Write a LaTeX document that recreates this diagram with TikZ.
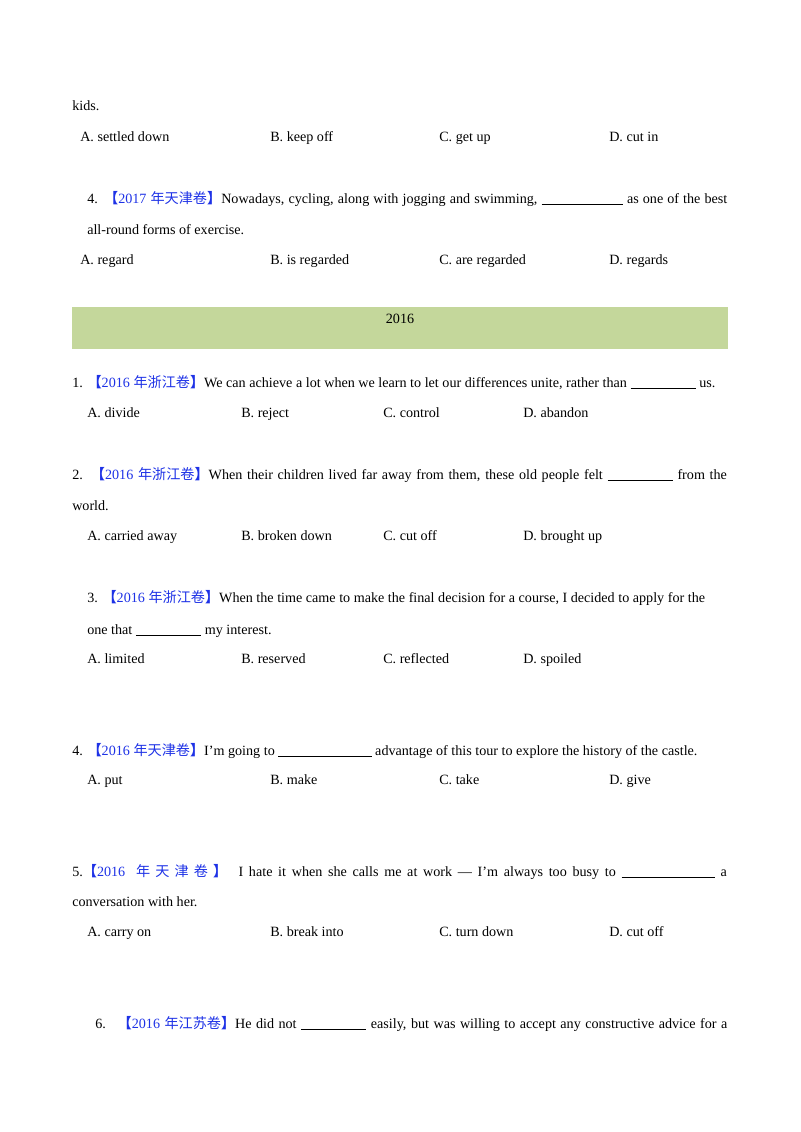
\documentclass[tikz,border=0pt]{standalone}
\usepackage{fontspec}
\setmainfont{Liberation Serif}
\newfontfamily\cjk{Noto Sans CJK SC}
\definecolor{hdblue}{RGB}{30,50,230}
\definecolor{band}{RGB}{196,215,155}
\newcommand\blankline[1]{\rule[-1.5pt]{#1}{0.5pt}}
\newcommand\src[2]{{\color{hdblue}{\cjk\bfseries 【}#1 {\cjk #2\bfseries 】}}}
\begin{document}
\begin{tikzpicture}[x=0.75pt,y=-0.75pt,
  txt/.style={anchor=base west,inner sep=0pt,font=\fontsize{10.6}{12}\selectfont}]
\useasboundingbox (0,0) rectangle (800,1132);
\fill[band] (72,307) rectangle (728,349);
\node[txt] (k) at (72,110) {kids.};
\node[txt] (a1) at (80,141) {A. settled down};
\node[txt] (b1) at (270,141) {B. keep off};
\node[txt] (c1) at (439,141) {C. get up};
\node[txt] (d1) at (609,141) {D. cut in};
\node[txt] (q4) at (87,203) {\makebox[480pt][s]{4. \src{2017}{年天津卷}Nowadays, cycling, along with jogging and swimming, \blankline{61pt} as one of the best}};
\node[txt] (q4b) at (87,234) {all-round forms of exercise.};
\node[txt] (a2) at (80,264) {A. regard};
\node[txt] (b2) at (270,264) {B. is regarded};
\node[txt] (c2) at (439,264) {C. are regarded};
\node[txt] (d2) at (609,264) {D. regards};
\node[txt,anchor=base] (yr) at (400,323) {2016};
\node[txt] (p1) at (72,387) {1. \src{2016}{年浙江卷}We can achieve a lot when we learn to let our differences unite, rather than \blankline{49pt} us.};
\node[txt] (a3) at (87,417) {A. divide};
\node[txt] (b3) at (241,417) {B. reject};
\node[txt] (c3) at (383,417) {C. control};
\node[txt] (d3) at (523,417) {D. abandon};
\node[txt] (p2) at (72,479) {\makebox[491pt][s]{2. \src{2016}{年浙江卷}When their children lived far away from them, these old people felt \blankline{49pt} from the}};
\node[txt] (p2b) at (72,510) {world.};
\node[txt] (a4) at (87,540) {A. carried away};
\node[txt] (b4) at (241,540) {B. broken down};
\node[txt] (c4) at (383,540) {C. cut off};
\node[txt] (d4) at (523,540) {D. brought up};
\node[txt] (p3) at (87,602) {3. \src{2016}{年浙江卷}When the time came to make the final decision for a course, I decided to apply for the};
\node[txt] (p3b) at (87,634) {one that \blankline{49pt} my interest.};
\node[txt] (a5) at (87,663) {A. limited};
\node[txt] (b5) at (241,663) {B. reserved};
\node[txt] (c5) at (383,663) {C. reflected};
\node[txt] (d5) at (523,663) {D. spoiled};
\node[txt] (p4) at (72,755) {4. \src{2016}{年天津卷}I'm going to \blankline{70pt} advantage of this tour to explore the history of the castle.};
\node[txt] (a6) at (87,784) {A. put};
\node[txt] (b6) at (270,784) {B. make};
\node[txt] (c6) at (439,784) {C. take};
\node[txt] (d6) at (609,784) {D. give};
\node[txt] (p5) at (72,876) {\makebox[491pt][s]{5.\src{2016}{ 年 天 津 卷 }\ \ I hate it when she calls me at work — I'm always too busy to \blankline{70pt} a}};
\node[txt] (p5b) at (72,906) {conversation with her.};
\node[txt] (a7) at (87,936) {A. carry on};
\node[txt] (b7) at (270,936) {B. break into};
\node[txt] (c7) at (439,936) {C. turn down};
\node[txt] (d7) at (609,936) {D. cut off};
\node[txt] (p6) at (95,1028) {\makebox[474pt][s]{6. \ \src{2016}{年江苏卷}He did not \blankline{49pt} easily, but was willing to accept any constructive advice for a}};
\end{tikzpicture}
\end{document}
